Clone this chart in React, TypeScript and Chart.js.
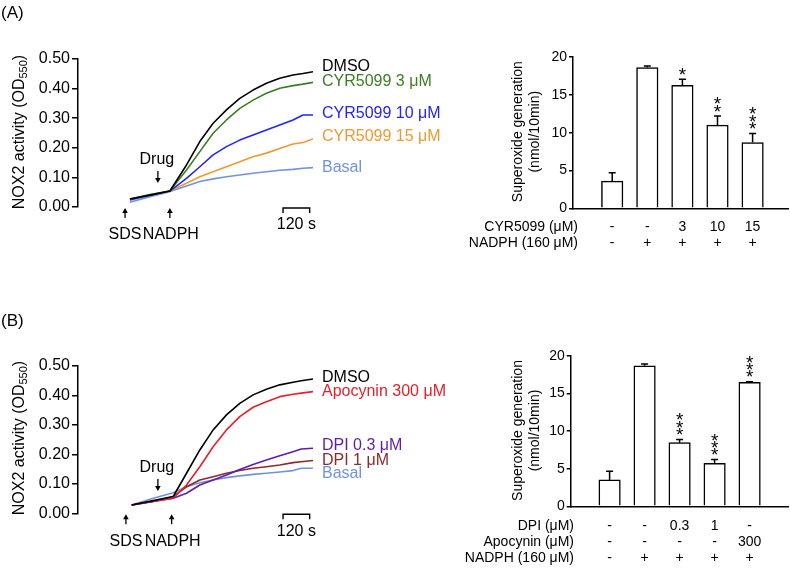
import React, { useEffect, useRef } from 'react';
import { Chart, registerables } from 'chart.js';

Chart.register(...registerables);

const FONT = '"Liberation Sans", Arial, Helvetica, sans-serif';
Chart.defaults.font.family = FONT;
Chart.defaults.color = '#000';

// ---------- Panel A: kinetics ----------
const TIMES_A = [0, 90, 180, 255, 315, 375, 435, 495, 555, 615, 675, 735, 780, 825];
const DMSO_A = [0.027, 0.040, 0.054, 0.142, 0.221, 0.283, 0.328, 0.367, 0.395, 0.418, 0.435, 0.446, 0.451, 0.457];
const CYR3_A = [0.027, 0.042, 0.054, 0.125, 0.187, 0.249, 0.294, 0.333, 0.361, 0.384, 0.401, 0.410, 0.415, 0.421];
const CYR10_A = [0.024, 0.040, 0.054, 0.097, 0.136, 0.176, 0.204, 0.226, 0.243, 0.260, 0.277, 0.294, 0.311, 0.311];
const CYR15_A = [0.027, 0.040, 0.054, 0.080, 0.102, 0.119, 0.136, 0.153, 0.170, 0.182, 0.198, 0.213, 0.218, 0.230];
const BASAL_A = [0.016, 0.035, 0.052, 0.071, 0.086, 0.095, 0.102, 0.108, 0.114, 0.119, 0.124, 0.127, 0.131, 0.133];
const NAMES_A = ['DMSO', 'CYR5099 3 μM', 'CYR5099 10 μM', 'CYR5099 15 μM', 'Basal'];
const COLORS_A = ['#000000', '#3b7d23', '#2424f5', '#ec9a34', '#6f94dc'];

// ---------- Panel B: kinetics ----------
const TIMES_B = [8, 105, 195, 255, 315, 375, 435, 495, 555, 615, 675, 735, 772, 825];
const DMSO_B = [0.028, 0.043, 0.057, 0.136, 0.215, 0.283, 0.334, 0.373, 0.402, 0.421, 0.436, 0.445, 0.450, 0.456];
const APO_B = [0.028, 0.041, 0.051, 0.096, 0.158, 0.226, 0.283, 0.328, 0.360, 0.379, 0.396, 0.404, 0.408, 0.413];
const DPI03_B = [0.028, 0.040, 0.051, 0.068, 0.096, 0.113, 0.130, 0.149, 0.166, 0.181, 0.195, 0.209, 0.218, 0.221];
const DPI1_B = [0.028, 0.040, 0.057, 0.090, 0.113, 0.124, 0.136, 0.145, 0.153, 0.158, 0.164, 0.172, 0.175, 0.179];
const BASAL_B = [0.028, 0.051, 0.070, 0.090, 0.104, 0.113, 0.121, 0.127, 0.132, 0.136, 0.140, 0.145, 0.153, 0.153];
const NAMES_B = ['DMSO', 'Apocynin 300 μM', 'DPI 0.3 μM', 'DPI 1 μM', 'Basal'];
const COLORS_B = ['#000000', '#e3212b', '#5d1eab', '#8c2a2a', '#6f94dc'];

const LINE_TICKS = [0, 0.1, 0.2, 0.3, 0.4, 0.5];

// ---------- Bar panels ----------
const BAR_A_VALUES = [3.6, 18.6, 16.25, 11.0, 8.7];
const BAR_A_SEM = [1.1, 0.2, 0.8, 1.2, 1.2];
const BAR_A_STARS = ['', '', '*', '**', '***'];
const ROW_A_LABELS = ['CYR5099 (μM)', 'NADPH (160 μM)'];
const ROW_A_CYR = ['-', '-', '3', '10', '15'];
const ROW_A_NADPH = ['-', '+', '+', '+', '+'];

const BAR_B_VALUES = [3.5, 18.65, 8.45, 5.7, 16.45];
const BAR_B_SEM = [1.15, 0.25, 0.42, 0.5, 0.1];
const BAR_B_STARS = ['', '', '***', '***', '***'];
const ROW_B_LABELS = ['DPI (μM)', 'Apocynin (μM)', 'NADPH (160 μM)'];
const ROW_B_DPI = ['-', '-', '0.3', '1', '-'];
const ROW_B_APO = ['-', '-', '-', '-', '300'];
const ROW_B_NADPH = ['-', '+', '+', '+', '+'];

const W = 790;
const H = 569;

function font(size: number) {
  return `${size}px ${FONT}`;
}

function arrowUp(ctx: CanvasRenderingContext2D, x: number, yTop: number, yBot: number) {
  ctx.save();
  ctx.strokeStyle = '#000';
  ctx.fillStyle = '#000';
  ctx.lineWidth = 1.3;
  ctx.beginPath();
  ctx.moveTo(x, yBot);
  ctx.lineTo(x, yTop + 3);
  ctx.stroke();
  ctx.beginPath();
  ctx.moveTo(x, yTop);
  ctx.lineTo(x - 2.8, yTop + 5);
  ctx.lineTo(x + 2.8, yTop + 5);
  ctx.closePath();
  ctx.fill();
  ctx.restore();
}

function arrowDown(ctx: CanvasRenderingContext2D, x: number, yTop: number, yBot: number) {
  ctx.save();
  ctx.strokeStyle = '#000';
  ctx.fillStyle = '#000';
  ctx.lineWidth = 1.3;
  ctx.beginPath();
  ctx.moveTo(x, yTop);
  ctx.lineTo(x, yBot - 3);
  ctx.stroke();
  ctx.beginPath();
  ctx.moveTo(x, yBot);
  ctx.lineTo(x - 2.8, yBot - 5);
  ctx.lineTo(x + 2.8, yBot - 5);
  ctx.closePath();
  ctx.fill();
  ctx.restore();
}

function text(ctx: CanvasRenderingContext2D, s: string, x: number, y: number, size: number, align: CanvasTextAlign = 'left', color = '#000') {
  ctx.save();
  ctx.font = font(size);
  ctx.fillStyle = color;
  ctx.textAlign = align;
  ctx.textBaseline = 'middle';
  ctx.fillText(s, x, y);
  ctx.restore();
}

function lineYTitle(ctx: CanvasRenderingContext2D, cx: number, cy: number) {
  ctx.save();
  ctx.translate(cx, cy);
  ctx.rotate(-Math.PI / 2);
  ctx.fillStyle = '#000';
  ctx.textBaseline = 'middle';
  ctx.textAlign = 'left';
  const main = 'NOX2 activity (OD';
  const sub = '550';
  const end = ')';
  ctx.font = font(16);
  const w1 = ctx.measureText(main).width;
  const w3 = ctx.measureText(end).width;
  ctx.font = font(11);
  const w2 = ctx.measureText(sub).width;
  const total = w1 + w2 + w3;
  let x = -total / 2;
  ctx.font = font(16);
  ctx.fillText(main, x, 0);
  x += w1;
  ctx.font = font(11);
  ctx.fillText(sub, x, 4);
  x += w2;
  ctx.font = font(16);
  ctx.fillText(end, x, 0);
  ctx.restore();
}

function barYTitle(ctx: CanvasRenderingContext2D, x1: number, x2: number, cy: number) {
  const lines: [string, number][] = [
    ['Superoxide generation', x1],
    ['(nmol/10min)', x2],
  ];
  lines.forEach(([s, x]) => {
    ctx.save();
    ctx.fillStyle = '#000';
    ctx.textBaseline = 'middle';
    ctx.textAlign = 'center';
    ctx.font = font(14);
    ctx.translate(x, cy);
    ctx.rotate(-Math.PI / 2);
    ctx.fillText(s, 0, 0);
    ctx.restore();
  });
}

type LineCfg = {
  times: number[];
  series: number[][];
  names: string[];
  colors: string[];
  nudges: number[];
  panel: string;
  panelY: number;
  top: number;
  bottom: number;
  titleY: number;
  sdsT: number;
  nadphT: number;
  drugT: number;
  drugY: number;
};

function makeLineChart(canvas: HTMLCanvasElement, c: LineCfg) {
  const annot = {
    id: 'annot_' + c.panel,
    afterDraw(chart: any) {
      const ctx: CanvasRenderingContext2D = chart.ctx;
      const xs = chart.scales.x;
      const ys = chart.scales.y;
      const base = ys.getPixelForValue(0);
      text(ctx, c.panel, 1, c.panelY, 17);
      lineYTitle(ctx, 20, c.titleY);
      c.series.forEach((vals, i) => {
        const y = ys.getPixelForValue(vals[vals.length - 1]) + c.nudges[i];
        text(ctx, c.names[i], 322, y, 16, 'left', c.colors[i]);
      });
      const xSds = xs.getPixelForValue(c.sdsT);
      const xNad = xs.getPixelForValue(c.nadphT);
      arrowUp(ctx, xSds, base + 1, base + 11);
      arrowUp(ctx, xNad, base + 1, base + 11);
      text(ctx, 'SDS', xSds, base + 28, 16, 'center');
      text(ctx, 'NADPH', xNad + 1, base + 28, 16, 'center');
      const xDrug = xs.getPixelForValue(c.drugT);
      text(ctx, 'Drug', xDrug - 1, c.drugY, 16, 'center');
      arrowDown(ctx, xDrug, c.drugY + 11, c.drugY + 23);
      const x1 = xs.getPixelForValue(690);
      const x2 = xs.getPixelForValue(810);
      ctx.save();
      ctx.strokeStyle = '#000';
      ctx.lineWidth = 1.4;
      ctx.beginPath();
      ctx.moveTo(x1, base + 6);
      ctx.lineTo(x1, base + 1);
      ctx.lineTo(x2, base + 1);
      ctx.lineTo(x2, base + 6);
      ctx.stroke();
      ctx.restore();
      text(ctx, '120 s', (x1 + x2) / 2, base + 18, 16, 'center');
    },
  };

  return new Chart(canvas, {
    type: 'line',
    data: {
      datasets: c.series.map((vals, i) => ({
        label: c.names[i],
        data: c.times.map((t, k) => ({ x: t, y: vals[k] })),
        borderColor: c.colors[i],
        backgroundColor: c.colors[i],
        borderWidth: 1.6,
        pointRadius: 0,
        fill: false,
        tension: 0,
        borderJoinStyle: 'round' as const,
      })),
    },
    options: {
      responsive: false,
      animation: false,
      events: [],
      layout: { padding: { left: 0, top: c.top, right: W - 313, bottom: H - c.bottom } },
      plugins: { legend: { display: false }, tooltip: { enabled: false } },
      scales: {
        x: { type: 'linear', display: false, min: -234, max: 825 },
        y: {
          type: 'linear',
          min: 0,
          max: 0.5,
          afterBuildTicks: (s: any) => {
            s.ticks = LINE_TICKS.map((v) => ({ value: v }));
          },
          ticks: {
            callback: (v: any) => Number(v).toFixed(2),
            font: { size: 16, family: FONT },
            color: '#000',
            padding: 2,
          },
          grid: { display: true, drawOnChartArea: false, drawTicks: true, tickLength: 6, color: '#000', lineWidth: 1.5 },
          border: { display: true, color: '#000', width: 1.5 },
          afterFit: (s: any) => {
            s.width = 78;
          },
        },
      },
    },
    plugins: [annot],
  } as any);
}

type BarCfg = {
  values: number[];
  sem: number[];
  stars: string[];
  rowLabels: string[];
  rows: string[][];
  rowY: number[];
  rowLabelX: number;
  axisX: number;
  top: number;
  bottom: number;
  xmin: number;
  xmax: number;
  titleY: number;
  id: string;
};

function makeBarChart(canvas: HTMLCanvasElement, c: BarCfg) {
  const annot = {
    id: 'bar_' + c.id,
    afterDatasetsDraw(chart: any) {
      const ctx: CanvasRenderingContext2D = chart.ctx;
      const xs = chart.scales.x;
      const ys = chart.scales.y;
      ctx.save();
      ctx.strokeStyle = '#000';
      ctx.lineWidth = 1.5;
      c.values.forEach((v, i) => {
        const x = xs.getPixelForValue(i);
        const yv = ys.getPixelForValue(v);
        const ye = ys.getPixelForValue(v + c.sem[i]);
        ctx.beginPath();
        ctx.moveTo(x, yv);
        ctx.lineTo(x, ye);
        ctx.moveTo(x - 3.5, ye);
        ctx.lineTo(x + 3.5, ye);
        ctx.stroke();
      });
      ctx.restore();
    },
    afterDraw(chart: any) {
      const ctx: CanvasRenderingContext2D = chart.ctx;
      const xs = chart.scales.x;
      const ys = chart.scales.y;
      c.stars.forEach((s, i) => {
        if (!s) return;
        const x = xs.getPixelForValue(i);
        const ye = ys.getPixelForValue(c.values[i] + c.sem[i]);
        for (let k = 0; k < s.length; k++) {
          const cy = ye - 9.5 - k * 7.3;
          ctx.save();
          ctx.font = font(19);
          ctx.fillStyle = '#000';
          ctx.textAlign = 'center';
          ctx.textBaseline = 'alphabetic';
          ctx.fillText('*', x, cy + 11);
          ctx.restore();
        }
      });
      barYTitle(ctx, 518.3, 535, c.titleY);
      c.rows.forEach((row, r) => {
        text(ctx, c.rowLabels[r], c.rowLabelX, c.rowY[r], 14, 'right');
        row.forEach((s, i) => {
          text(ctx, s, xs.getPixelForValue(i), c.rowY[r], 14, 'center');
        });
      });
    },
  };

  return new Chart(canvas, {
    type: 'bar',
    data: {
      datasets: [
        {
          data: c.values.map((v, i) => ({ x: i, y: v })),
          backgroundColor: '#ffffff',
          borderColor: '#000000',
          borderWidth: 1.5,
          borderSkipped: 'start',
          barThickness: 21.5,
        },
      ],
    },
    options: {
      responsive: false,
      animation: false,
      events: [],
      layout: { padding: { left: 0, top: c.top, right: 2, bottom: H - c.bottom } },
      plugins: { legend: { display: false }, tooltip: { enabled: false } },
      scales: {
        x: {
          type: 'linear',
          min: c.xmin,
          max: c.xmax,
          offset: false,
          ticks: { display: false },
          grid: { display: false, drawTicks: false },
          border: { display: true, color: '#000', width: 1.5 },
          afterFit: (s: any) => {
            s.height = 0;
          },
        },
        y: {
          type: 'linear',
          min: 0,
          max: 20,
          ticks: { stepSize: 5, font: { size: 14, family: FONT }, color: '#000', padding: 2 },
          grid: { display: true, drawOnChartArea: false, drawTicks: true, tickLength: 4, color: '#000', lineWidth: 1.5 },
          border: { display: true, color: '#000', width: 1.5 },
          afterFit: (s: any) => {
            s.width = c.axisX;
          },
        },
      },
    },
    plugins: [annot],
  } as any);
}

export default function App() {
  const r1 = useRef<HTMLCanvasElement>(null);
  const r2 = useRef<HTMLCanvasElement>(null);
  const r3 = useRef<HTMLCanvasElement>(null);
  const r4 = useRef<HTMLCanvasElement>(null);

  useEffect(() => {
    const charts: Chart[] = [];
    charts.push(
      makeLineChart(r1.current!, {
        times: TIMES_A,
        series: [DMSO_A, CYR3_A, CYR10_A, CYR15_A, BASAL_A],
        names: NAMES_A,
        colors: COLORS_A,
        nudges: [-5, -1, -1, -2, 0],
        panel: '(A)',
        panelY: 13,
        top: 59,
        bottom: 207,
        titleY: 132,
        sdsT: -22,
        nadphT: 180,
        drugT: 126,
        drugY: 160,
      })
    );
    charts.push(
      makeLineChart(r2.current!, {
        times: TIMES_B,
        series: [DMSO_B, APO_B, DPI03_B, DPI1_B, BASAL_B],
        names: NAMES_B,
        colors: COLORS_B,
        nudges: [-1, 0, -3, 0, 5],
        panel: '(B)',
        panelY: 321,
        top: 366,
        bottom: 513.3,
        titleY: 438,
        sdsT: -18,
        nadphT: 188,
        drugT: 126,
        drugY: 468,
      })
    );
    charts.push(
      makeBarChart(r3.current!, {
        values: BAR_A_VALUES,
        sem: BAR_A_SEM,
        stars: BAR_A_STARS,
        rowLabels: ROW_A_LABELS,
        rows: [ROW_A_CYR, ROW_A_NADPH],
        rowY: [227, 243],
        rowLabelX: 578,
        axisX: 573,
        top: 57,
        bottom: 208.3,
        xmin: (573 - 612.2) / 35.1,
        xmax: (788 - 612.2) / 35.1,
        titleY: 131.7,
        id: 'A',
      })
    );
    charts.push(
      makeBarChart(r4.current!, {
        values: BAR_B_VALUES,
        sem: BAR_B_SEM,
        stars: BAR_B_STARS,
        rowLabels: ROW_B_LABELS,
        rows: [ROW_B_DPI, ROW_B_APO, ROW_B_NADPH],
        rowY: [526, 542, 558],
        rowLabelX: 574,
        axisX: 570.7,
        top: 355.7,
        bottom: 506.3,
        xmin: (570.7 - 609.6) / 35,
        xmax: (788 - 609.6) / 35,
        titleY: 430.5,
        id: 'B',
      })
    );
    return () => charts.forEach((ch) => ch.destroy());
  }, []);

  const cs: React.CSSProperties = { position: 'absolute', left: 0, top: 0, width: W, height: H };
  return (
    <div style={{ position: 'absolute', left: 0, top: 0, width: W, height: H, background: '#fff' }}>
      <canvas ref={r1} width={W} height={H} style={cs} />
      <canvas ref={r2} width={W} height={H} style={cs} />
      <canvas ref={r3} width={W} height={H} style={cs} />
      <canvas ref={r4} width={W} height={H} style={cs} />
    </div>
  );
}
